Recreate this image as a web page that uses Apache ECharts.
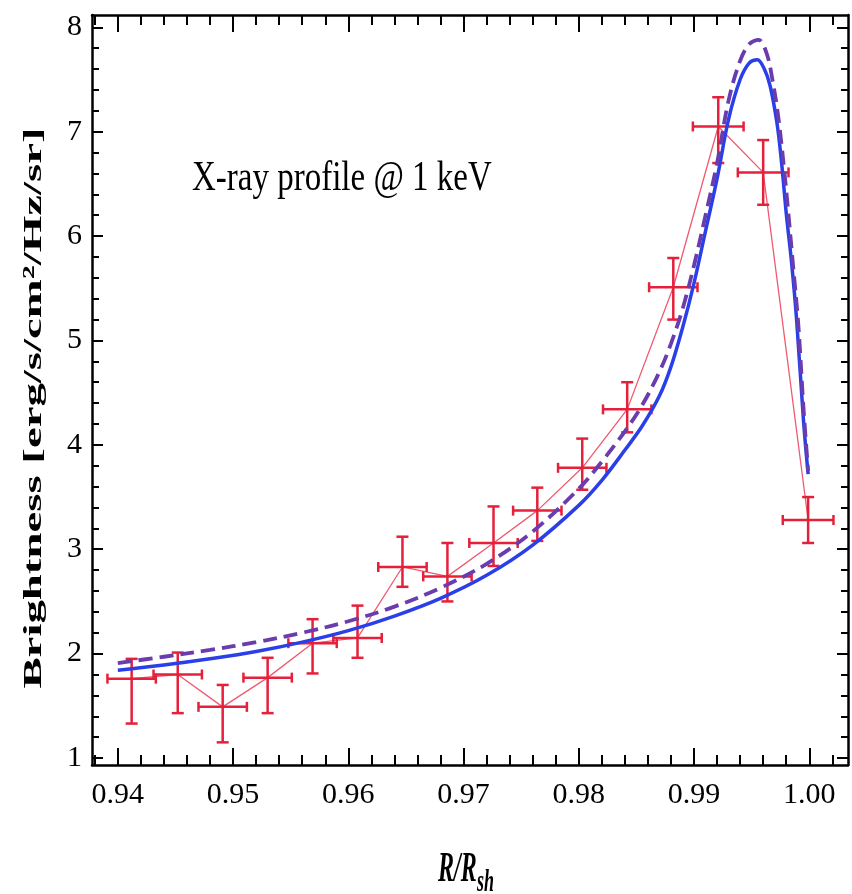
<!DOCTYPE html>
<html>
<head>
<meta charset="utf-8">
<script src="https://cdn.jsdelivr.net/npm/echarts@6/dist/echarts.min.js"></script>
<style>
html,body{margin:0;padding:0;background:#fff;}
#chart{width:852px;height:894px;}
</style>
</head>
<body>
<div id="chart"></div>
<script>
// ---- Data: measured X-ray profile points (centers and error bars) ----
const dataX   = [0.9412, 0.9452, 0.9491, 0.9530, 0.9569, 0.9608, 0.9647, 0.9686, 0.9726, 0.9764, 0.9803, 0.9842, 0.9882, 0.9921, 0.9960, 0.9999];
const dataY   = [1.76, 1.80, 1.49, 1.77, 2.10, 2.15, 2.83, 2.74, 3.06, 3.37, 3.78, 4.34, 5.51, 7.05, 6.61, 3.28];
const errX    = [0.0021, 0.0021, 0.0021, 0.0021, 0.0021, 0.0021, 0.0021, 0.0021, 0.0021, 0.0021, 0.0021, 0.0021, 0.0021, 0.0022, 0.0022, 0.0022];
const errYHi  = [0.19, 0.21, 0.21, 0.19, 0.23, 0.31, 0.29, 0.32, 0.35, 0.22, 0.28, 0.26, 0.28, 0.28, 0.31, 0.22];
const errYLo  = [0.43, 0.37, 0.34, 0.34, 0.29, 0.19, 0.19, 0.24, 0.22, 0.29, 0.21, 0.22, 0.31, 0.35, 0.31, 0.22];

// ---- Model curve (solid blue) ----
const solidX = [0.9400, 0.9440, 0.9480, 0.9520, 0.9560, 0.9600, 0.9640, 0.9680, 0.9720, 0.9760, 0.9800, 0.9820, 0.9840, 0.9855, 0.9870, 0.9880, 0.9890, 0.9900, 0.9910, 0.9920, 0.9930, 0.9940, 0.9948, 0.9955, 0.9961, 0.9966, 0.9972, 0.9976, 0.9980, 0.99847, 0.9989, 0.9995, 0.9999];
const solidY = [1.84, 1.89, 1.95, 2.02, 2.11, 2.22, 2.36, 2.53, 2.75, 3.04, 3.42, 3.66, 3.95, 4.18, 4.47, 4.75, 5.12, 5.55, 6.05, 6.55, 7.12, 7.50, 7.66, 7.69, 7.60, 7.44, 7.08, 6.70, 6.22, 5.74, 5.20, 4.23, 3.72];

// ---- Model curve (dashed purple) ----
const dashX = [0.9400, 0.9440, 0.9480, 0.9520, 0.9560, 0.9600, 0.9640, 0.9680, 0.9720, 0.9760, 0.9800, 0.9820, 0.9840, 0.9855, 0.9870, 0.9880, 0.9890, 0.9900, 0.9910, 0.9920, 0.9930, 0.9940, 0.9948, 0.9956, 0.9963, 0.9968, 0.9973, 0.9979, 0.9986, 0.99905, 0.9995, 0.9999];
const dashY = [1.91, 1.97, 2.035, 2.11, 2.20, 2.31, 2.45, 2.63, 2.86, 3.17, 3.58, 3.84, 4.13, 4.38, 4.70, 4.97, 5.30, 5.72, 6.20, 6.70, 7.30, 7.68, 7.84, 7.88, 7.75, 7.50, 7.15, 6.55, 5.71, 5.15, 4.35, 3.75];

// ---- Ticks ----
const xTickValues = [0.94, 0.95, 0.96, 0.97, 0.98, 0.99, 1.00];
const xTickLabels = ['0.94', '0.95', '0.96', '0.97', '0.98', '0.99', '1.00'];
const yTickValues = [1, 2, 3, 4, 5, 6, 7, 8];
const yTickLabels = ['1', '2', '3', '4', '5', '6', '7', '8'];

const titleText = 'X-ray profile @ 1 keV';
const yTitle = 'Brightness [erg/s/cm\u00B2/Hz/sr]';
const xTitleMain = 'R/R';
const xTitleSub = 'sh';

// ---- axis extents ----
const X_MIN = 0.93776, X_MAX = 1.00336;
const Y_MIN = 0.933, Y_MAX = 8.118;

const xMinor = [];
for (let i = 0; i <= 40; i++) {
  const v = Math.round((0.938 + i * 0.002) * 10000) / 10000;
  if (v > X_MAX) break;
  if (Math.abs(v * 100 - Math.round(v * 100)) > 1e-6) xMinor.push(v);
}
const yMinor = [];
for (let i = 0; i <= 40; i++) {
  const v = Math.round((1 + i * 0.2) * 100) / 100;
  if (v > Y_MAX) break;
  if (Math.abs(v - Math.round(v)) > 1e-6) yMinor.push(v);
}

const RED = '#e5203a';
const FONT = 'Liberation Serif';

const errData = dataX.map((x, i) => [x, dataY[i], errX[i], errYHi[i], errYLo[i]]);

function xAxisDef(pos, ticks, len, showLine, showLabel) {
  return {
    type: 'value', position: pos, min: X_MIN, max: X_MAX,
    axisLine: {show: showLine, onZero: false, lineStyle: {color: '#000', width: 2.5}},
    axisTick: {show: true, inside: true, length: len, customValues: ticks, lineStyle: {color: '#000', width: 2}},
    axisLabel: {show: showLabel, customValues: xTickValues, margin: 15,
      formatter: v => { const i = xTickValues.findIndex(t => Math.abs(t - v) < 1e-6); return i >= 0 ? xTickLabels[i] : ''; },
      fontFamily: FONT, fontSize: 30, color: '#000'},
    splitLine: {show: false}, minorTick: {show: false}
  };
}
function yAxisDef(pos, ticks, len, showLine, showLabel) {
  return {
    type: 'value', position: pos, min: Y_MIN, max: Y_MAX,
    axisLine: {show: showLine, onZero: false, lineStyle: {color: '#000', width: 2.5}},
    axisTick: {show: true, inside: true, length: len, customValues: ticks, lineStyle: {color: '#000', width: 2}},
    axisLabel: {show: showLabel, customValues: yTickValues, margin: 10,
      formatter: v => { const i = yTickValues.findIndex(t => Math.abs(t - v) < 1e-6); return i >= 0 ? yTickLabels[i] : ''; },
      fontFamily: FONT, fontSize: 30, color: '#000'},
    splitLine: {show: false}, minorTick: {show: false}
  };
}

const chart = echarts.init(document.getElementById('chart'), null, {renderer: 'canvas'});
chart.setOption({
  animation: false,
  backgroundColor: '#fff',
  grid: {left: 92, right: 4, top: 15, bottom: 129, containLabel: false, outerBoundsMode: 'none'},
  xAxis: [
    xAxisDef('bottom', xTickValues, 17, true, true),
    xAxisDef('top', xTickValues, 17, true, false),
    xAxisDef('bottom', xMinor, 10, false, false),
    xAxisDef('top', xMinor, 10, false, false)
  ],
  yAxis: [
    yAxisDef('left', yTickValues, 11, true, true),
    yAxisDef('right', yTickValues, 11, true, false),
    yAxisDef('left', yMinor, 7, false, false),
    yAxisDef('right', yMinor, 7, false, false)
  ],
  graphic: [
    {type: 'text', x: 192, y: 179, scaleX: 1.0, scaleY: 1.3,
      style: {text: titleText, font: '33px "' + FONT + '"', fill: '#000', textAlign: 'left', textVerticalAlign: 'middle'}},
    {type: 'text', x: 34, y: 408, rotation: Math.PI / 2, scaleX: 1.8, scaleY: 1.0,
      style: {text: yTitle, font: 'bold 26px "' + FONT + '"', fill: '#000', textAlign: 'center', textVerticalAlign: 'middle'}},
    {type: 'text', x: 438, y: 870, scaleX: 1.0, scaleY: 1.75,
      style: {text: xTitleMain, font: 'italic bold 24px "' + FONT + '"', fill: '#000', textAlign: 'left', textVerticalAlign: 'middle'}},
    {type: 'text', x: 477, y: 883, scaleX: 1.0, scaleY: 1.75,
      style: {text: xTitleSub, font: 'italic bold 18px "' + FONT + '"', fill: '#000', textAlign: 'left', textVerticalAlign: 'middle'}}
  ],
  series: [
    {
      name: 'data line', type: 'line', xAxisIndex: 0, yAxisIndex: 0,
      data: dataX.map((x, i) => [x, dataY[i]]),
      showSymbol: false, symbol: 'none',
      lineStyle: {color: '#ef5a70', width: 1.3}, z: 2
    },
    {
      name: 'data', type: 'custom', xAxisIndex: 0, yAxisIndex: 0,
      data: errData, encode: {x: 0, y: 1}, clip: false, z: 3,
      renderItem: function (params, api) {
        const x = api.value(0), y = api.value(1), xe = api.value(2), hi = api.value(3), lo = api.value(4);
        const l = api.coord([x - xe, y]), r = api.coord([x + xe, y]);
        const t = api.coord([x, y + hi]), b = api.coord([x, y - lo]);
        const st = {stroke: RED, lineWidth: 2.5, fill: null};
        const cw = 6, ch = 5;
        const ln = (x1, y1, x2, y2) => ({type: 'line', shape: {x1, y1, x2, y2}, style: st});
        return {type: 'group', children: [
          ln(l[0], l[1], r[0], r[1]),
          ln(t[0], t[1], b[0], b[1]),
          ln(t[0] - cw, t[1], t[0] + cw, t[1]),
          ln(b[0] - cw, b[1], b[0] + cw, b[1]),
          ln(l[0], l[1] - ch, l[0], l[1] + ch),
          ln(r[0], r[1] - ch, r[0], r[1] + ch)
        ]};
      }
    },
    {
      name: 'model solid', type: 'line', xAxisIndex: 0, yAxisIndex: 0,
      data: solidX.map((x, i) => [x, solidY[i]]),
      showSymbol: false, symbol: 'none', smooth: 0.35,
      lineStyle: {color: '#2a3fe8', width: 3.5}, z: 4
    },
    {
      name: 'model dashed', type: 'line', xAxisIndex: 0, yAxisIndex: 0,
      data: dashX.map((x, i) => [x, dashY[i]]),
      showSymbol: false, symbol: 'none', smooth: 0.35,
      lineStyle: {color: '#6a3cae', width: 3.8, type: [14, 7]}, z: 5
    }
  ]
});
</script>
</body>
</html>
